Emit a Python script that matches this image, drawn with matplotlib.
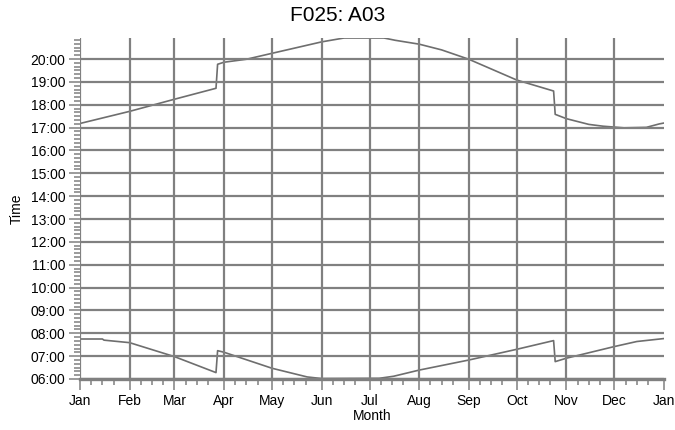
import numpy as np
import matplotlib.pyplot as plt
from matplotlib.ticker import FixedLocator, MultipleLocator, FuncFormatter

# day of year (0 = 1 Jan) and hours
sunset_day = [0, 31, 59, 85, 86, 90, 104, 120, 151, 165, 190, 197, 212, 226,
              243, 273, 296, 297, 304, 318, 327, 340, 354, 362, 365]
sunset_h = [17.18, 17.71, 18.24, 18.72, 19.77, 19.86, 19.99, 20.25, 20.75, 20.92,
            20.92, 20.82, 20.65, 20.40, 19.99, 19.08, 18.60, 17.58, 17.39, 17.14,
            17.06, 16.99, 17.01, 17.16, 17.20]

sunrise_day = [0, 14, 15, 31, 59, 85, 86, 90, 120, 142, 151, 187, 196, 212,
               243, 273, 296, 297, 304, 334, 348, 365]
sunrise_h = [7.75, 7.75, 7.70, 7.59, 6.98, 6.28, 7.24, 7.17, 6.47, 6.09, 6.02,
             6.03, 6.12, 6.39, 6.83, 7.30, 7.68, 6.76, 6.91, 7.42, 7.64, 7.77]

month_start = [0, 31, 59, 90, 120, 151, 181, 212, 243, 273, 304, 334, 365]
month_names = ['Jan', 'Feb', 'Mar', 'Apr', 'May', 'Jun', 'Jul', 'Aug', 'Sep',
               'Oct', 'Nov', 'Dec', 'Jan']

plt.rcParams['font.family'] = ['Liberation Sans', 'DejaVu Sans']
grey = '#808080'

fig = plt.figure(figsize=(6.75, 4.3), dpi=100)
ax = fig.add_axes([80 / 675, 1 - 379 / 430, 584 / 675, 341 / 430])

ax.plot(sunset_day, sunset_h, color='#6e6e6e', lw=1.2, zorder=1)
ax.plot(sunrise_day, sunrise_h, color='#6e6e6e', lw=1.2, zorder=1)

ax.set_xlim(0, 365)
ax.set_ylim(6, 20.92)

ax.xaxis.set_major_locator(FixedLocator(month_start))
ax.set_xticklabels(month_names)
minor_x = [m + k for m in month_start[:-1] for k in (7, 14, 21)]
ax.xaxis.set_minor_locator(FixedLocator(minor_x))

ax.yaxis.set_major_locator(MultipleLocator(1))
ax.yaxis.set_minor_locator(MultipleLocator(1 / 6))
ax.yaxis.set_major_formatter(FuncFormatter(lambda v, p: '%02d:00' % round(v)))

ax.tick_params(which='major', length=8, width=1.1, color=grey, labelsize=10,
               pad=2.5, labelcolor='black')
ax.tick_params(which='minor', length=4.5, width=1.1, color=grey)

ax.set_axisbelow(False)
ax.grid(True, which='major', color=grey, lw=1.6)
ax.xaxis.get_gridlines()[-1].set_visible(False)

for s in ['top', 'right', 'left']:
    ax.spines[s].set_visible(False)
ax.spines['bottom'].set_color(grey)
ax.spines['bottom'].set_linewidth(2.4)

ax.set_xlabel('Month', fontsize=10, labelpad=1)
ax.set_ylabel('Time', fontsize=10, labelpad=5)
fig.suptitle('F025: A03', fontsize=15, x=0.5, y=0.985)

fig.savefig('out.png', dpi=100)
